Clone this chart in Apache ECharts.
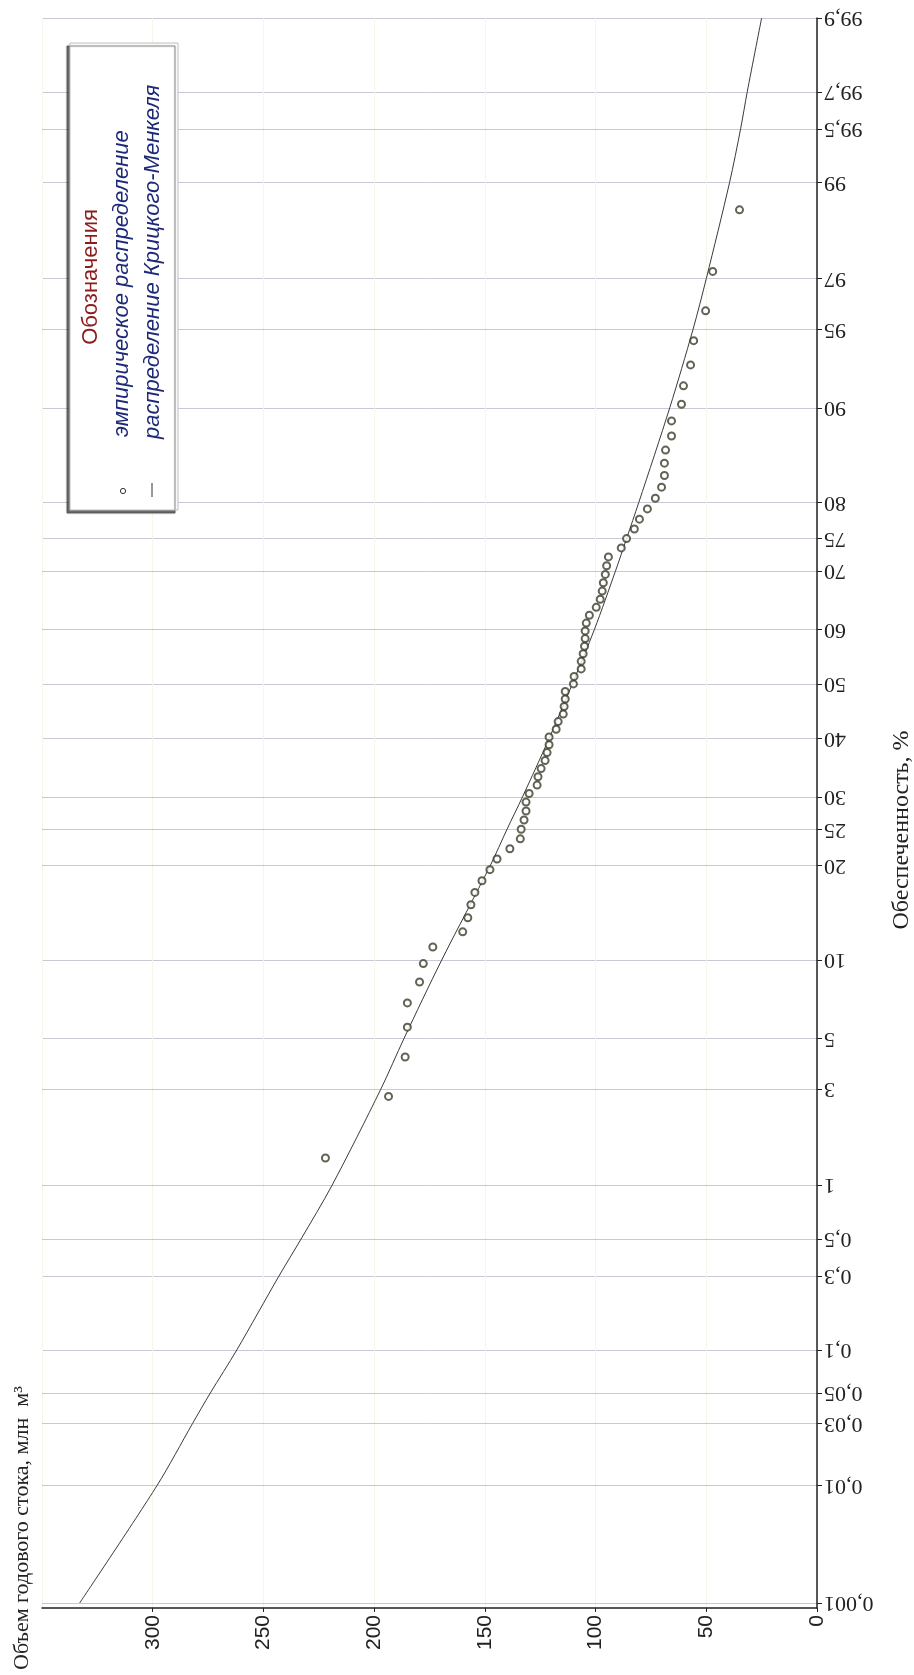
<!DOCTYPE html>
<html><head><meta charset="utf-8">
<script src="https://cdn.jsdelivr.net/npm/echarts@6/dist/echarts.min.js"></script>
<style>html,body{margin:0;padding:0;background:#fff}#c{width:914px;height:1675px}</style>
</head><body><div id="c"></div>
<script>
// Probability (exceedance) axis ticks, %
const probTicks = [0.001, 0.01, 0.03, 0.05, 0.1, 0.3, 0.5, 1, 3, 5, 10, 20, 25, 30, 40, 50, 60, 70, 75, 80, 90, 95, 97, 99, 99.5, 99.7, 99.9];
const probTickLabels = ['0,001','0,01','0,03','0,05','0,1','0,3','0,5','1','3','5','10','20','25','30','40','50','60','70','75','80','90','95','97','99','99,5','99,7','99,9'];
// Volume axis
const volMin = 0, volMax = 350, volStep = 50;

// Empirical distribution points
const empiricalProb = [1.39, 2.78, 4.17, 5.56, 6.94, 8.33, 9.72, 11.11, 12.5, 13.89, 15.28, 16.67, 18.06, 19.44, 20.83, 22.22, 23.61, 25, 26.39, 27.78, 29.17, 30.56, 31.94, 33.33, 34.72, 36.11, 37.5, 38.89, 40.28, 41.67, 43.06, 44.44, 45.83, 47.22, 48.61, 50, 51.39, 52.78, 54.17, 55.56, 56.94, 58.33, 59.72, 61.11, 62.5, 63.89, 65.28, 66.67, 68.06, 69.44, 70.83, 72.22, 73.61, 75, 76.39, 77.78, 79.17, 80.56, 81.94, 83.33, 84.72, 86.11, 87.5, 88.89, 90.28, 91.67, 93.06, 94.44, 95.83, 97.22, 98.61];
const empiricalValue = [222, 193.5, 186, 185, 185, 179.5, 177.8, 173.5, 160, 157.7, 156.3, 154.5, 151.3, 147.7, 144.5, 138.7, 134, 133.6, 132.3, 131.4, 131.4, 130, 126.4, 126, 124.6, 122.8, 121.9, 121, 121, 117.8, 116.9, 114.6, 114.2, 113.7, 113.7, 110, 109.7, 106.5, 106.5, 105.6, 105, 104.7, 104.7, 104.2, 102.8, 99.7, 97.9, 97, 96.5, 95.6, 95, 94.2, 88.4, 86, 82.5, 80.2, 76.6, 73, 70.2, 68.9, 68.9, 68.4, 65.7, 65.7, 61.2, 60.3, 57.1, 55.7, 50.3, 47.1, 35];

// Kritsky-Menkel distribution curve
const curveProb = [0.001, 0.01, 0.03, 0.05, 0.1, 0.3, 0.5, 1, 3, 5, 10, 20, 25, 30, 40, 50, 60, 70, 75, 80, 90, 95, 97, 99, 99.5, 99.7, 99.9];
const curveValue = [333, 298, 282, 274, 262, 243, 233, 219, 197, 186.5, 169.5, 147.5, 140, 133, 121, 110.5, 100.5, 91, 86, 80.5, 66.5, 56, 50, 39.5, 34.5, 31.5, 25];

// inverse standard normal CDF (Acklam) -> probability-paper scale
function normInv(p) {
  const a = [-3.969683028665376e+01, 2.209460984245205e+02, -2.759285104469687e+02, 1.383577518672690e+02, -3.066479806614716e+01, 2.506628277459239e+00];
  const b = [-5.447609879822406e+01, 1.615858368580409e+02, -1.556989798598866e+02, 6.680131188771972e+01, -1.328068155288572e+01];
  const c = [-7.784894002430293e-03, -3.223964580411365e-01, -2.400758277161838e+00, -2.549732539343734e+00, 4.374664141464968e+00, 2.938163982698783e+00];
  const d = [7.784695709041462e-03, 3.224671290700398e-01, 2.445134137142996e+00, 3.754408661907416e+00];
  const pl = 0.02425, ph = 1 - pl;
  let q, r;
  if (p < pl) { q = Math.sqrt(-2 * Math.log(p)); return (((((c[0]*q+c[1])*q+c[2])*q+c[3])*q+c[4])*q+c[5]) / ((((d[0]*q+d[1])*q+d[2])*q+d[3])*q+1); }
  if (p <= ph) { q = p - 0.5; r = q*q; return (((((a[0]*r+a[1])*r+a[2])*r+a[3])*r+a[4])*r+a[5])*q / (((((b[0]*r+b[1])*r+b[2])*r+b[3])*r+b[4])*r+1); }
  q = Math.sqrt(-2 * Math.log(1 - p)); return -(((((c[0]*q+c[1])*q+c[2])*q+c[3])*q+c[4])*q+c[5]) / ((((d[0]*q+d[1])*q+d[2])*q+d[3])*q+1);
}
const zp = p => normInv(p / 100);
const tickZ = probTicks.map(zp);

const chart = echarts.init(document.getElementById('c'), null, {renderer: 'canvas'});
const serif = 'Liberation Serif, Times New Roman, serif';
const sans = 'Liberation Sans, Arial, sans-serif';
const navy = '#1e2a78';

chart.setOption({
  backgroundColor: '#ffffff',
  animation: false,
  grid: {left: 42, right: 97, top: 18, bottom: 67, containLabel: false},
  xAxis: {
    type: 'value', min: volMin, max: volMax, interval: volStep, inverse: true, position: 'bottom',
    axisLine: {show: true, onZero: false, lineStyle: {color: '#222', width: 1.5}},
    axisTick: {show: true, length: 4, lineStyle: {color: '#222'}},
    axisLabel: {rotate: 90, fontFamily: sans, fontSize: 21, color: '#222', margin: 7, showMaxLabel: false},
    splitLine: {show: true, lineStyle: {color: '#ecebe0', type: 'dotted', width: 1}}
  },
  yAxis: {
    type: 'value', position: 'right', min: zp(0.001) - 0.0232, max: zp(99.9),
    axisLine: {show: true, onZero: false, lineStyle: {color: '#222', width: 1.5}},
    axisTick: {show: true, length: 5, customValues: tickZ, lineStyle: {color: '#222'}},
    axisLabel: {
      show: true, rotate: 180, customValues: tickZ, fontFamily: serif, fontSize: 22, color: '#222', margin: 7,
      formatter: function (v) {
        let best = 0, bd = Infinity;
        tickZ.forEach((t, i) => { const dd = Math.abs(t - v); if (dd < bd) { bd = dd; best = i; } });
        return probTickLabels[best];
      }
    },
    splitLine: {show: true, lineStyle: {color: '#c9c9d6', width: 1}}
  },
  series: [
    {
      name: 'распределение Крицкого-Менкеля', type: 'line', smooth: 0.3, showSymbol: false, silent: true,
      lineStyle: {color: '#3a3a3a', width: 1},
      data: curveValue.map((v, i) => [v, zp(curveProb[i])]), z: 2
    },
    {
      name: 'эмпирическое распределение', type: 'scatter', symbol: 'emptyCircle', symbolSize: 7,
      itemStyle: {color: '#3b3b2b', borderWidth: 1.1},
      data: empiricalValue.map((v, i) => [v, zp(empiricalProb[i])]), z: 3
    }
  ],
  graphic: [
    {type: 'rect', shape: {x: 70, y: 43, width: 108, height: 467}, z: 10,
     style: {fill: '#ffffff', stroke: '#bdbdbd', lineWidth: 1, shadowColor: 'rgba(60,60,60,0.75)', shadowOffsetX: -3, shadowOffsetY: 3, shadowBlur: 1}},
    {type: 'text', x: 91, y: 277, rotation: Math.PI / 2, z: 11,
     style: {text: 'Обозначения', fill: '#8b1c1c', font: '22px ' + sans, align: 'center', verticalAlign: 'middle'}},
    {type: 'text', x: 122, y: 437, rotation: Math.PI / 2, z: 11,
     style: {text: 'эмпирическое распределение', fill: navy, font: 'italic 22px ' + sans, align: 'left', verticalAlign: 'middle'}},
    {type: 'text', x: 153, y: 439, rotation: Math.PI / 2, z: 11,
     style: {text: 'распределение Крицкого-Менкеля', fill: navy, font: 'italic 22px ' + sans, align: 'left', verticalAlign: 'middle'}},
    {type: 'circle', shape: {cx: 123, cy: 491, r: 2.6}, z: 11, style: {fill: '#fff', stroke: '#333', lineWidth: 1}},
    {type: 'line', shape: {x1: 152, y1: 483, x2: 152, y2: 497}, z: 11, style: {stroke: '#333', lineWidth: 1}},
    {type: 'text', x: 22, y: 1670, rotation: Math.PI / 2, z: 11,
     style: {text: 'Объем годового стока, млн  м³', fill: '#222', font: '22px ' + serif, align: 'left', verticalAlign: 'middle'}},
    {type: 'text', x: 902, y: 830, rotation: Math.PI / 2, z: 11,
     style: {text: 'Обеспеченность, %', fill: '#222', font: '24px ' + serif, align: 'center', verticalAlign: 'middle'}}
  ]
});
</script></body></html>
